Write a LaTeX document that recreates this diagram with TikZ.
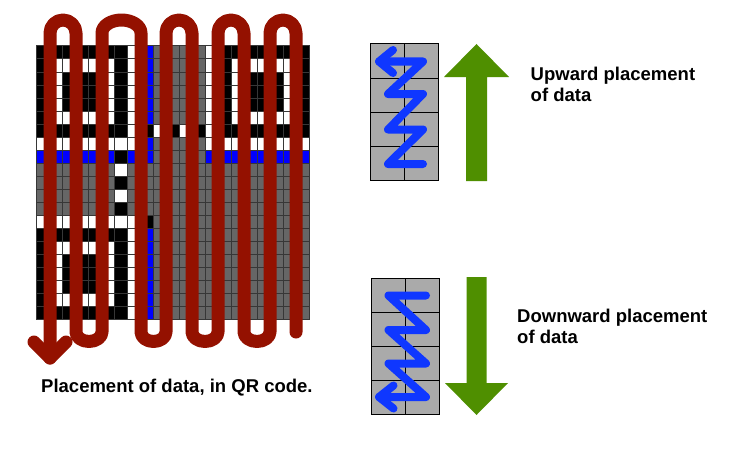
\documentclass[tikz,border=0pt]{standalone}
\usepackage{fontspec}
\setmainfont{Liberation Sans}
\definecolor{qrgray}{RGB}{102,102,102}
\definecolor{gridc}{RGB}{55,55,55}
\definecolor{fmtblue}{RGB}{0,0,255}
\definecolor{pathred}{RGB}{148,17,0}
\definecolor{cellgray}{RGB}{170,170,170}
\definecolor{zigblue}{RGB}{15,55,255}
\definecolor{arrgreen}{RGB}{79,143,0}
\tikzset{
  cellK/.style={fill=black, draw=gridc, line width=1pt},
  cellW/.style={fill=white, draw=gridc, line width=1pt},
  cellB/.style={fill=fmtblue, draw=gridc, line width=1pt},
  cellG/.style={fill=qrgray, draw=gridc, line width=1pt},
  smallcell/.style={fill=cellgray, draw=black, line width=1pt},
  redpath/.style={draw=pathred, line width=13pt, line cap=round, line join=round},
  zig/.style={draw=zigblue, line width=8pt, line cap=round, line join=round},
  bigarrow/.style={fill=arrgreen},
  lbl/.style={font=\fontsize{18.5}{20.5}\selectfont\bfseries, inner sep=0pt, anchor=base west}
}
\begin{document}
\begin{tikzpicture}[x=1pt, y=-1pt]
\path[use as bounding box, fill=white] (0,0) rectangle (730,452);

% QR grid, 21 x 21 modules
\foreach \rowcells [count=\ri from 0] in {
{K,K,K,K,K,K,K,W,B,G,G,G,G,W,K,K,K,K,K,K,K},
{K,W,W,W,W,W,K,W,B,G,G,G,G,W,K,W,W,W,W,W,K},
{K,W,K,K,K,W,K,W,B,G,G,G,G,W,K,W,K,K,K,W,K},
{K,W,K,K,K,W,K,W,B,G,G,G,G,W,K,W,K,K,K,W,K},
{K,W,K,K,K,W,K,W,B,G,G,G,G,W,K,W,K,K,K,W,K},
{K,W,W,W,W,W,K,W,B,G,G,G,G,W,K,W,W,W,W,W,K},
{K,K,K,K,K,K,K,W,K,W,K,W,K,W,K,K,K,K,K,K,K},
{W,W,W,W,W,W,W,W,B,G,G,G,G,W,W,W,W,W,W,W,W},
{B,B,B,B,B,B,K,B,B,G,G,G,G,B,B,B,B,B,B,B,B},
{G,G,G,G,G,G,W,G,G,G,G,G,G,G,G,G,G,G,G,G,G},
{G,G,G,G,G,G,K,G,G,G,G,G,G,G,G,G,G,G,G,G,G},
{G,G,G,G,G,G,W,G,G,G,G,G,G,G,G,G,G,G,G,G,G},
{G,G,G,G,G,G,K,G,G,G,G,G,G,G,G,G,G,G,G,G,G},
{W,W,W,W,W,W,W,W,K,G,G,G,G,G,G,G,G,G,G,G,G},
{K,K,K,K,K,K,K,W,B,G,G,G,G,G,G,G,G,G,G,G,G},
{K,W,W,W,W,W,K,W,B,G,G,G,G,G,G,G,G,G,G,G,G},
{K,W,K,K,K,W,K,W,B,G,G,G,G,G,G,G,G,G,G,G,G},
{K,W,K,K,K,W,K,W,B,G,G,G,G,G,G,G,G,G,G,G,G},
{K,W,K,K,K,W,K,W,B,G,G,G,G,G,G,G,G,G,G,G,G},
{K,W,W,W,W,W,K,W,B,G,G,G,G,G,G,G,G,G,G,G,G},
{K,K,K,K,K,K,K,W,B,G,G,G,G,G,G,G,G,G,G,G,G}}{
  \foreach \cc [count=\ci from 0] in \rowcells {
    \path[cell\cc] ({36+13*\ci},{46+13*\ri}) rectangle +(13,13);
  }
}

% serpentine data path
\draw[redpath] (296,332) -- (296,33) arc[start angle=0, end angle=-180, radius=13]
  -- (270,332) arc[start angle=0, end angle=180, x radius=13, y radius=9.5]
  -- (244,33) arc[start angle=0, end angle=-180, radius=13]
  -- (218,332) arc[start angle=0, end angle=180, x radius=13, y radius=9.5]
  -- (192,33) arc[start angle=0, end angle=-180, radius=13]
  -- (166,332) arc[start angle=0, end angle=180, x radius=12.5, y radius=9.5]
  -- (141,33) arc[start angle=0, end angle=-180, x radius=19.5, y radius=13]
  -- (102,332) arc[start angle=0, end angle=180, x radius=13, y radius=9.5]
  -- (76,33) arc[start angle=0, end angle=-180, radius=13]
  -- (50,358);
\draw[redpath] (34,342) -- (50,358) -- (66,342);

% upward example
\foreach \i in {0,1,2,3} {
  \path[smallcell] (370,{44+34*\i}) rectangle +(34.2,34);
  \path[smallcell] (404.2,{44+34*\i}) rectangle +(34.2,34);
}
\draw[zig] (423,164) -- (388,164) -- (423,129.5) -- (388,129.5) -- (423,94) -- (388,94) -- (423,61.5) -- (379,61.5);
\draw[zig] (393,50) -- (379,61.5) -- (393,73);
\fill[bigarrow] (466,181) -- (466,77) -- (444,77) -- (476.5,44) -- (509,77) -- (487,77) -- (487,181) -- cycle;

% downward example
\foreach \i in {0,1,2,3} {
  \path[smallcell] (371.5,{278.3+34*\i}) rectangle +(34,34);
  \path[smallcell] (405.5,{278.3+34*\i}) rectangle +(34,34);
}
\draw[zig] (426,295.5) -- (388.5,295.5) -- (426,330) -- (388.5,330) -- (426,363.5) -- (388.5,363.5) -- (426,397) -- (379,397);
\draw[zig] (393.5,385.5) -- (379,397) -- (393.5,408.5);
\fill[bigarrow] (466.5,277) -- (466.5,383) -- (445,383) -- (476.5,415) -- (508,383) -- (486.5,383) -- (486.5,277) -- cycle;

% labels
\node[lbl] (uplbl) at (530.5,81) {\vtop{\hbox{Upward placement}\hbox{of data}}};
\node[lbl] (downlbl) at (517,322.7) {\vtop{\hbox{Downward placement}\hbox{of data}}};
\node[lbl] (caption) at (41,392.7) {Placement of data, in QR code.};
\end{tikzpicture}
\end{document}
